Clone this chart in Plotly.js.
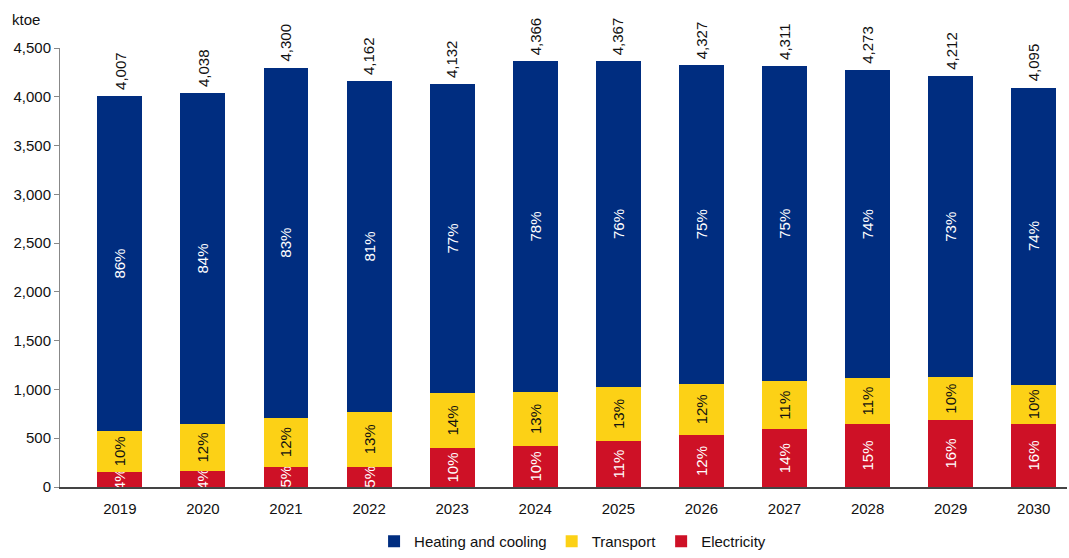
<!DOCTYPE html>
<html>
<head>
<meta charset="utf-8">
<script src="https://cdn.plot.ly/plotly-3.0.1.min.js"></script>
<style>html,body{margin:0;padding:0;background:#fff;}#chart{width:1069px;height:558px;}</style>
</head>
<body>
<div id="chart"></div>
<script>
const years = ['2019','2020','2021','2022','2023','2024','2025','2026','2027','2028','2029','2030'];
const electricity = [158, 164, 210, 208, 400, 420, 471, 533, 591, 646, 687, 645];
const transport = [416, 482, 500, 561, 563, 555, 554, 526, 495, 468, 437, 405];
const heating = [3433, 3392, 3590, 3393, 3169, 3391, 3342, 3268, 3225, 3159, 3088, 3045];
const totals = [4007, 4038, 4300, 4162, 4132, 4366, 4367, 4327, 4311, 4273, 4212, 4095];
const totalLabels = ['4,007','4,038','4,300','4,162','4,132','4,366','4,367','4,327','4,311','4,273','4,212','4,095'];
const elecPct = ['4%','4%','5%','5%','10%','10%','11%','12%','14%','15%','16%','16%'];
const transPct = ['10%','12%','12%','13%','14%','13%','13%','12%','11%','11%','10%','10%'];
const heatPct = ['86%','84%','83%','81%','77%','78%','76%','75%','75%','74%','73%','74%'];

const font = 'Liberation Sans, Arial, sans-serif';
function barTrace(name, y, txt, color, txtColor) {
  return {
    type: 'bar', name: name, x: years, y: y, text: txt,
    textposition: 'inside', insidetextanchor: 'middle', textangle: -90,
    constraintext: 'none',
    textfont: {family: font, size: 15, color: txtColor},
    marker: {color: color, line: {width: 0}},
    hoverinfo: 'skip'
  };
}
const data = [
  barTrace('Electricity', electricity, elecPct, '#CE1126', '#ffffff'),
  barTrace('Transport', transport, transPct, '#FCD116', '#111111'),
  barTrace('Heating and cooling', heating, heatPct, '#002D80', '#ffffff')
];
const annotations = years.map((yr, i) => ({
  xref: 'x', yref: 'y', x: i, y: totals[i], text: totalLabels[i], textangle: -90,
  showarrow: false, xanchor: 'center', yanchor: 'bottom', yshift: 4,
  font: {family: font, size: 15, color: '#111'}
}));
annotations.push({
  xref: 'paper', yref: 'paper', x: -0.05, y: 1.04, xanchor: 'left', yanchor: 'bottom',
  text: 'ktoe', showarrow: false, font: {family: font, size: 15, color: '#111'}
});
const layout = {
  width: 1069, height: 558,
  margin: {l: 60, r: 2, t: 48, b: 71},
  barmode: 'stack', bargap: 0.46,
  paper_bgcolor: '#fff', plot_bgcolor: '#fff',
  font: {family: font, size: 15, color: '#111'},
  xaxis: {
    type: 'category', range: [-0.72, 11.4], showline: true, linecolor: '#444', linewidth: 1.5,
    ticks: '', showgrid: false, automargin: false, ticklabelstandoff: 7,
    tickfont: {family: font, size: 15, color: '#111'}
  },
  yaxis: {
    range: [0, 4500], tickvals: [0,500,1000,1500,2000,2500,3000,3500,4000,4500],
    ticktext: ['0','500','1,000','1,500','2,000','2,500','3,000','3,500','4,000','4,500'],
    showline: true, linecolor: '#888', linewidth: 1, ticks: 'outside', ticklen: 5, tickcolor: '#888',
    showgrid: false, zeroline: false, automargin: false, tickfont: {family: font, size: 15, color: '#111'}
  },
  showlegend: true,
  legend: {orientation: 'h', traceorder: 'reversed', xref: 'paper', x: 0.509, xanchor: 'center',
    yref: 'container', y: -0.012, yanchor: 'bottom',
    font: {family: font, size: 15, color: '#111'}},
  annotations: annotations
};
Plotly.newPlot('chart', data, layout, {displayModeBar: false, staticPlot: true});
</script>
</body>
</html>
